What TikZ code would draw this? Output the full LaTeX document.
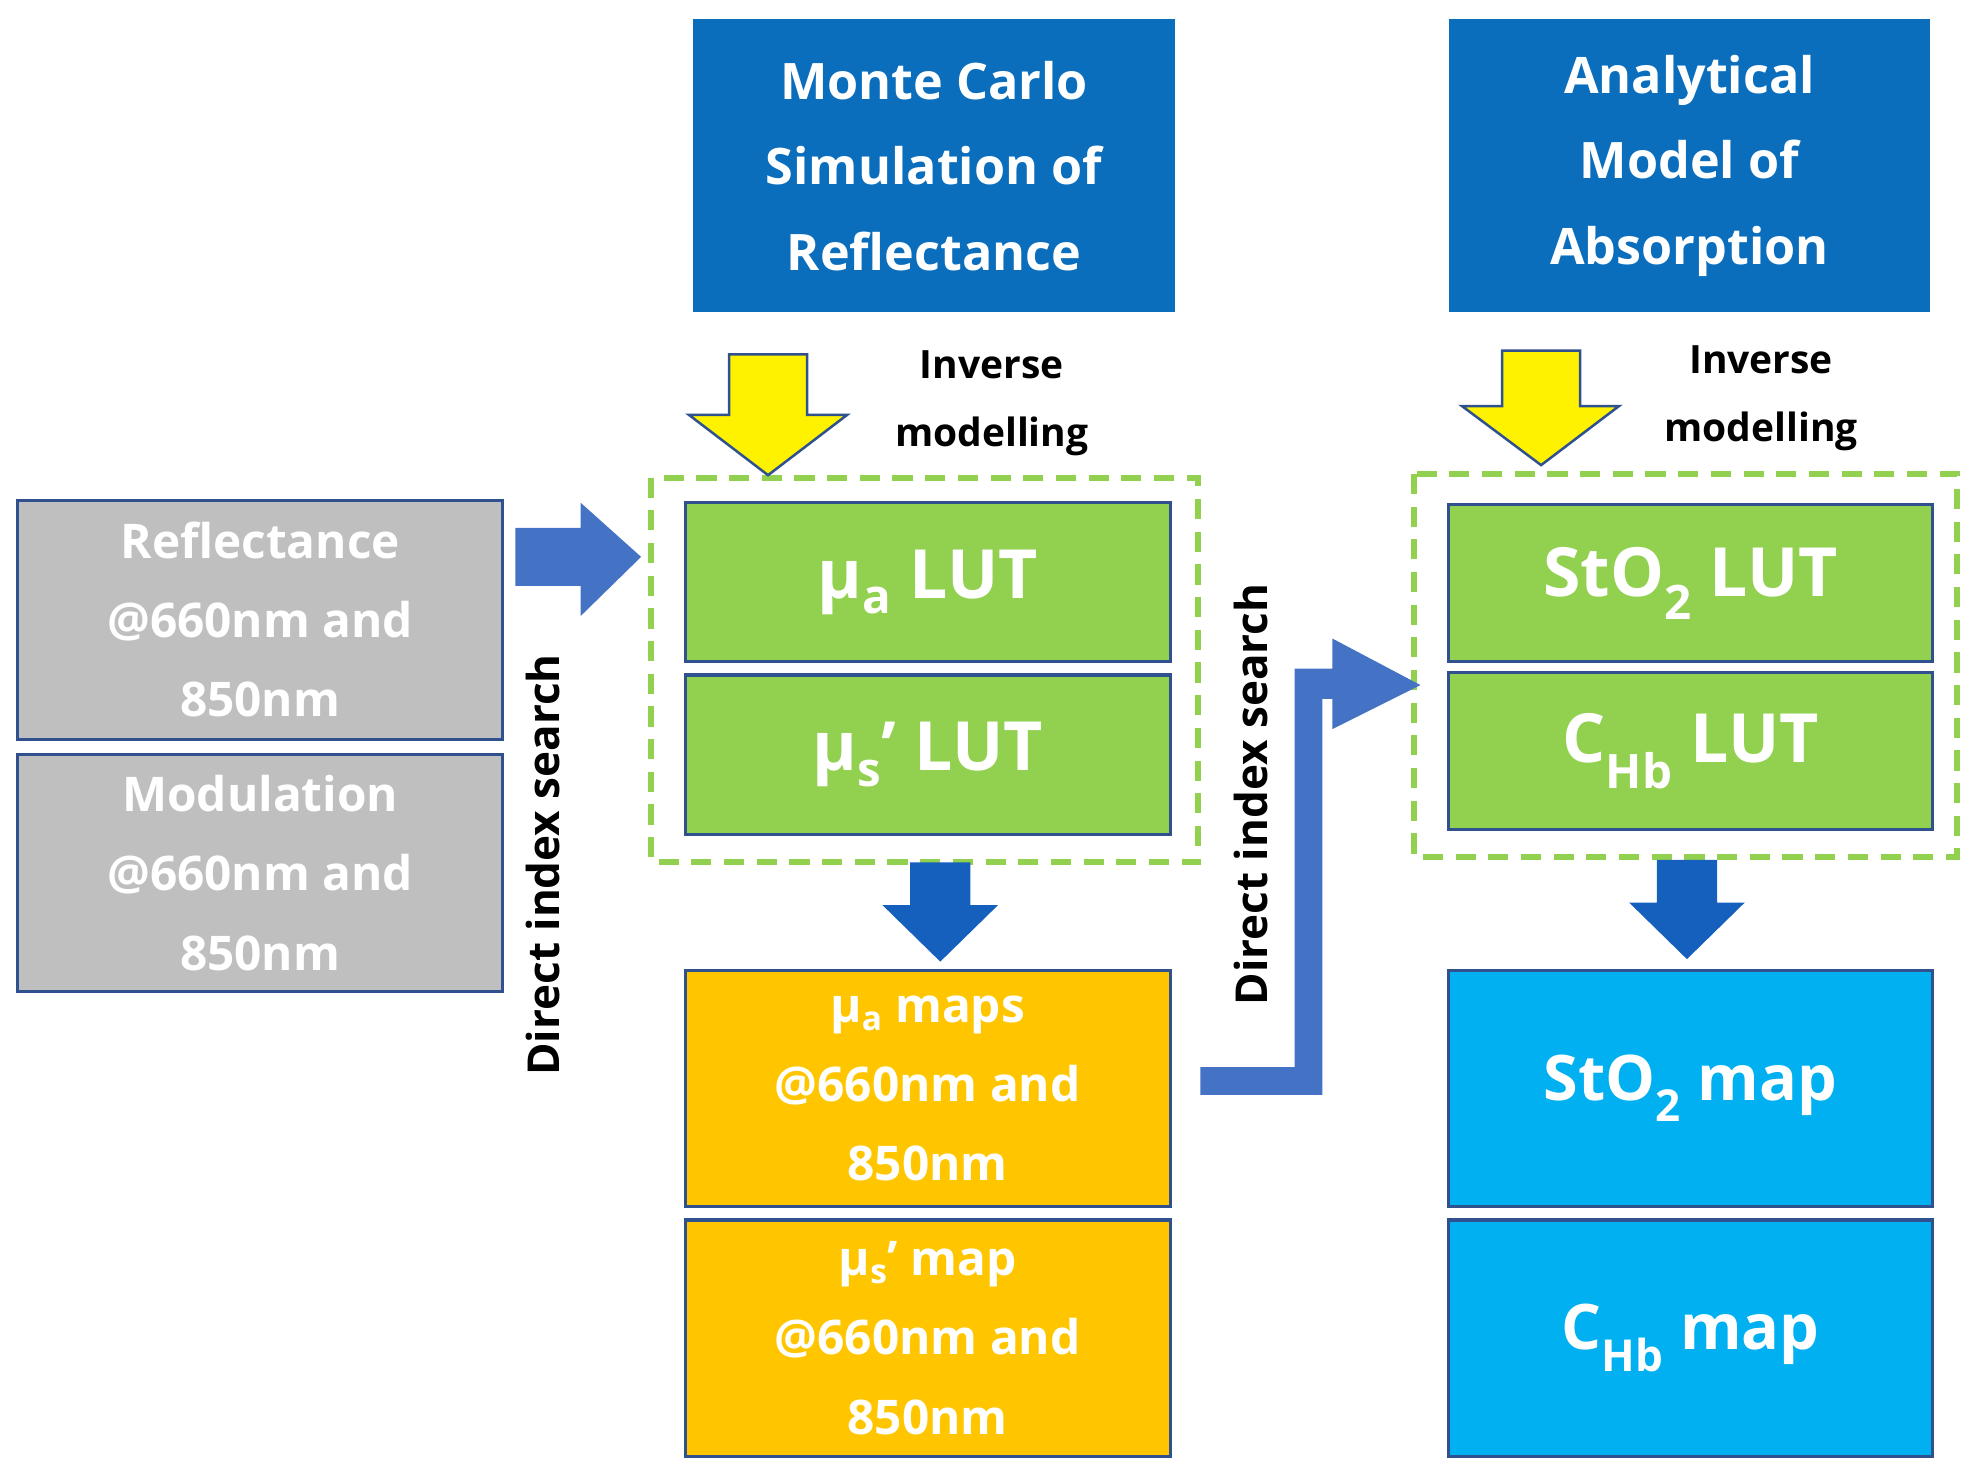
\documentclass[tikz,border=0pt]{standalone}
\usepackage{fontspec}
\setmainfont{Open Sans}
\usetikzlibrary{positioning}
\definecolor{mcblue}{RGB}{10,110,189}
\definecolor{lutgreen}{RGB}{146,208,80}
\definecolor{rimblue}{RGB}{47,82,143}
\definecolor{mapgold}{RGB}{255,198,0}
\definecolor{mapcyan}{RGB}{0,176,240}
\definecolor{greybox}{RGB}{191,191,191}
\definecolor{flowblue}{RGB}{68,114,196}
\definecolor{downblue}{RGB}{21,96,189}
\tikzset{every picture/.style={line width=0.75pt}}
\tikzset{
  box/.style={draw=rimblue,line width=2.5pt,text=white,font=\fontsize{38}{63}\selectfont\bfseries,align=center,inner sep=0pt},
  model/.style={fill=mcblue,draw=none,text=white,font=\fontsize{40}{68}\selectfont\bfseries,align=center,minimum width=383pt,minimum height=233pt},
  lut/.style={box,fill=lutgreen,minimum width=386pt,minimum height=127pt,font=\fontsize{54}{60}\selectfont\bfseries},
  map/.style={box,minimum width=386pt,minimum height=188pt},
  note/.style={font=\fontsize{31}{54}\selectfont\bfseries,align=center},
  frame/.style={draw=lutgreen,dashed,line width=5pt,dash pattern=on 16pt off 10pt}
}
\begin{document}
\begin{tikzpicture}[x=1pt,y=1pt,yscale=-1]
\useasboundingbox (0,0) rectangle (1568,1172);

%models
\node[model] (mc) at (743,132) {Monte Carlo\\Simulation of\\Reflectance};
\node[model] (an) at (1344,132) {Analytical\\Model of\\Absorption};

%inputs
\node[box,fill=greybox,minimum width=386pt,minimum height=190pt] (refl) at (207,493) {Reflectance\\@660nm and\\850nm};
\node[box,fill=greybox,minimum width=386pt,minimum height=188pt,below=10pt of refl] (modu) {Modulation\\@660nm and\\850nm};

%look-up tables
\node[lut] (mualut) at (738,463) {\raisebox{-6pt}{μ\textsubscript{a} LUT}};
\node[lut,below=8pt of mualut] (muslut) {\raisebox{-6pt}{μ\textsubscript{s}’ LUT}};
\node[lut,minimum width=385pt,minimum height=125pt] (stolut) at (1345,464) {\raisebox{-6pt}{StO\textsubscript{2} LUT}};
\node[lut,minimum width=385pt,minimum height=125pt,below=6pt of stolut] (chblut) {\raisebox{-6pt}{C\textsubscript{Hb} LUT}};
\draw[frame] (518,380) rectangle (953,686);
\draw[frame] (1125,377) rectangle (1557,682);

%maps
\node[map,fill=mapgold] (muamap) at (738,866) {μ\textsubscript{a} maps\\@660nm and\\850nm};
\node[map,fill=mapgold,below=8pt of muamap] (musmap) {μ\textsubscript{s}’ map\\@660nm and\\850nm};
\node[map,fill=mapcyan,minimum width=385pt,font=\fontsize{50}{60}\selectfont\bfseries] (stomap) at (1345,866) {\raisebox{-6pt}{StO\textsubscript{2} map}};
\node[map,fill=mapcyan,minimum width=385pt,font=\fontsize{50}{60}\selectfont\bfseries,below=8pt of stomap] (chbmap) {\raisebox{-6pt}{C\textsubscript{Hb} map}};

%yellow arrows
\draw[draw=rimblue,fill=yellow,line width=2pt] (580,282) -- (642,282) -- (642,330) -- (674,330) -- (611,378) -- (548,330) -- (580,330) -- cycle;
\draw[draw=rimblue,fill=yellow,line width=2pt] (1195,279) -- (1257,279) -- (1257,323) -- (1288,323) -- (1226,370) -- (1163,323) -- (1195,323) -- cycle;
\node[note] (inv1) at (789,321) {Inverse\\modelling};
\node[note] (inv2) at (1401,317) {Inverse\\modelling};

%down arrows
\fill[downblue] (724,686) -- (772,686) -- (772,720) -- (794,720) -- (748,765) -- (702,720) -- (724,720) -- cycle;
\fill[downblue] (1318,684) -- (1366,684) -- (1366,718) -- (1388,718) -- (1342,763) -- (1296,718) -- (1318,718) -- cycle;

%search arrows
\fill[flowblue] (410,420) -- (462,420) -- (462,400) -- (510,443) -- (462,490) -- (462,466) -- (410,466) -- cycle;
\fill[flowblue] (955,849) -- (1030,849) -- (1030,532) -- (1060,532) -- (1060,508) -- (1130,545) -- (1060,580) -- (1060,556) -- (1052,556) -- (1052,871) -- (955,871) -- cycle;
\node[note,rotate=90,font=\fontsize{35}{40}\selectfont\bfseries] (dis1) at (432,688) {Direct index search};
\node[note,rotate=90,font=\fontsize{35}{40}\selectfont\bfseries] (dis2) at (995,632) {Direct index search};
\end{tikzpicture}
\end{document}
